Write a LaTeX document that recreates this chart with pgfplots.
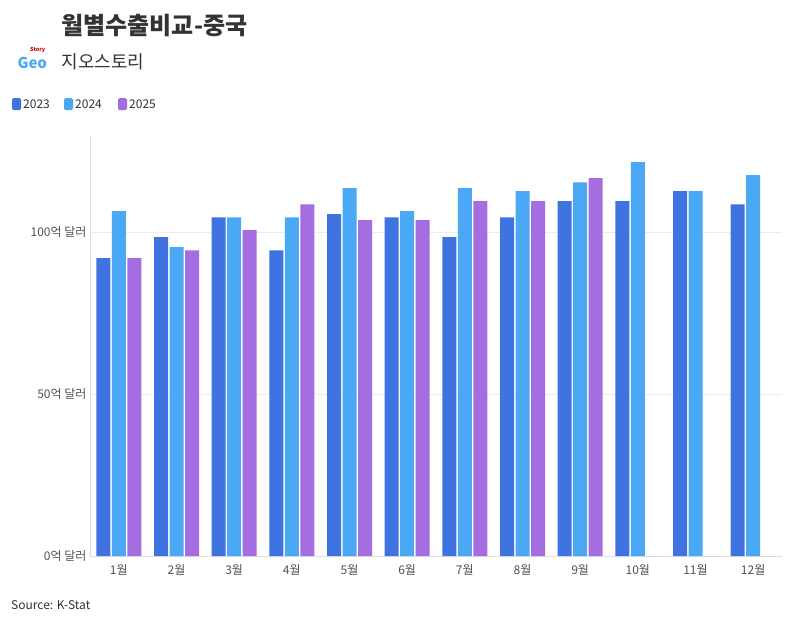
\documentclass[border=0pt]{standalone}
\usepackage{pgfplots}
\pgfplotsset{compat=1.18}
\usepackage{fontspec}
\setmainfont{Noto Sans CJK KR}
\definecolor{cA}{HTML}{3F74E0}
\definecolor{cB}{HTML}{4AA8F5}
\definecolor{cC}{HTML}{A56EE0}
\definecolor{tx}{HTML}{333333}
\begin{document}
\begin{tikzpicture}
\begin{scope}[x=1pt,y=1pt]
\path[fill=white] (0,0) rectangle (795,-624);
\node[anchor=west,font=\bfseries\fontsize{24}{28}\selectfont,text=tx] at (58,-26) {월별수출비교-중국};
\node[anchor=west,font=\fontsize{18}{22}\selectfont,text=tx] at (58,-62) {지오스토리};
\node[anchor=west,font=\bfseries\fontsize{15}{16}\selectfont,text=cB] at (14,-63) {Geo};
\node[anchor=west,font=\bfseries\fontsize{5.5}{6}\selectfont,text=red!80!black,inner sep=0] at (30,-50) {Story};
\foreach \c/\l/\x in {cA/2023/12,cB/2024/64,cC/2025/118}{
  \fill[\c,rounded corners=1.5pt] (\x,-98) rectangle (\x+9,-110);
  \node[anchor=west,font=\fontsize{12}{14}\selectfont,text=tx,inner sep=0] at (\x+11,-104) {\l};
}
\node[anchor=west,font=\fontsize{12}{14}\selectfont,text=tx,inner sep=0] at (11,-605) {Source: K-Stat};
\end{scope}
\begin{axis}[at={(90pt,-556pt)},anchor=south west,scale only axis,width=692pt,height=421pt,
 ybar=1.5pt,bar width=14pt,xmin=-0.5,xmax=11.5,ymin=0,ymax=130,
 xtick={0,...,11},xticklabels={1월,2월,3월,4월,5월,6월,7월,8월,9월,10월,11월,12월},
 ytick={0,50,100},yticklabels={0억 달러,50억 달러,100억 달러},
 ymajorgrids,grid style={gray!15},
 axis x line*=bottom,axis y line*=left,axis line style={gray!25},
 major tick length=0,
 tick label style={font=\fontsize{12}{14}\selectfont,text=tx!85},
 xticklabel style={yshift=-5pt},
 /pgf/number format/assume math mode=true,
 enlarge x limits=false]
\addplot[fill=cA,draw=none] coordinates {(0,92)(1,98.5)(2,104.6)(3,94.4)(4,105.6)(5,104.6)(6,98.5)(7,104.6)(8,109.6)(9,109.6)(10,112.7)(11,108.6)};
\addplot[fill=cB,draw=none] coordinates {(0,106.5)(1,95.4)(2,104.6)(3,104.6)(4,113.6)(5,106.5)(6,113.6)(7,112.7)(8,115.4)(9,121.6)(10,112.7)(11,117.6)};
\addplot[fill=cC,draw=none] coordinates {(0,92)(1,94.4)(2,100.6)(3,108.6)(4,103.7)(5,103.7)(6,109.6)(7,109.6)(8,116.7)(9,0)(10,0)(11,0)};
\end{axis}
\end{tikzpicture}
\end{document}
